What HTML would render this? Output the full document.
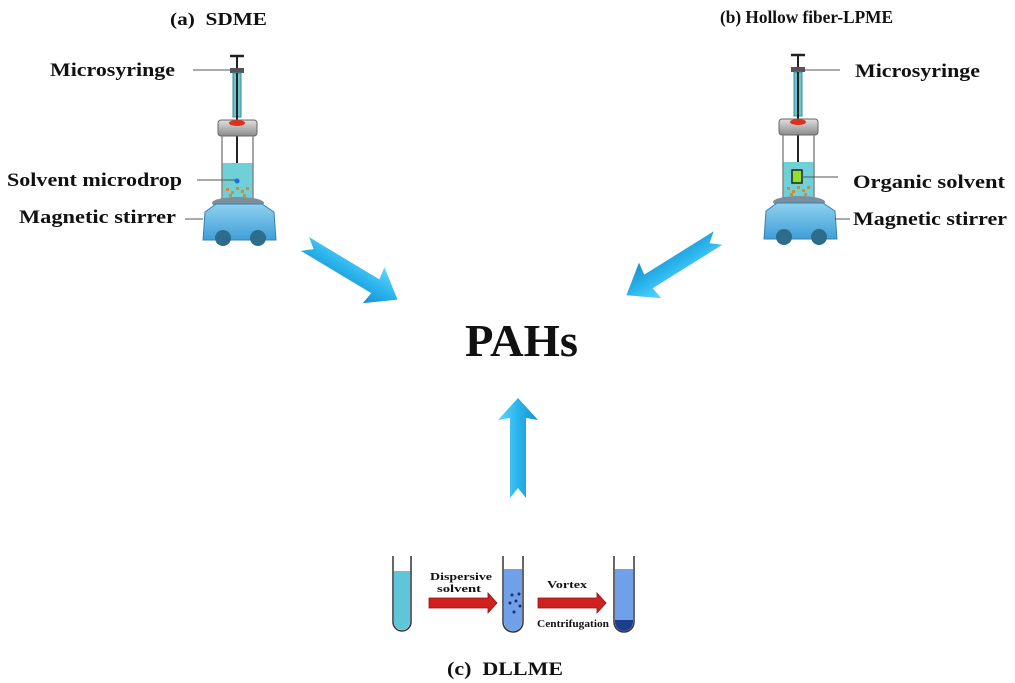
<!DOCTYPE html>
<html><head><meta charset="utf-8"><style>
html,body{margin:0;padding:0;background:#fff;}
svg{display:block;}
text{font-family:"Liberation Serif",serif;font-weight:bold;fill:#111;}
</style></head><body>
<svg width="1015" height="683" viewBox="0 0 1015 683" xmlns="http://www.w3.org/2000/svg">
<defs>
<linearGradient id="arr" x1="0" y1="0" x2="0" y2="1">
<stop offset="0" stop-color="#5fd6ff"/><stop offset="0.5" stop-color="#2ab4ec"/><stop offset="1" stop-color="#1a8fd0"/>
</linearGradient>
<linearGradient id="plate" x1="0" y1="0" x2="0" y2="1">
<stop offset="0" stop-color="#8fd0f0"/><stop offset="1" stop-color="#3f9fd6"/>
</linearGradient>
<linearGradient id="cap" x1="0" y1="0" x2="0" y2="1">
<stop offset="0" stop-color="#e0e0e0"/><stop offset="1" stop-color="#8a8a8a"/>
</linearGradient>
<g id="app">
<line x1="230" y1="56" x2="244" y2="56" stroke="#222" stroke-width="2.5"/>
<line x1="237" y1="56" x2="237" y2="70" stroke="#222" stroke-width="2"/>
<rect x="230" y="68" width="14" height="5" fill="#555"/>
<rect x="233" y="73" width="8" height="44" fill="#6cc4cf" stroke="#3a8a9a" stroke-width="1"/>
<line x1="237" y1="73" x2="237" y2="185" stroke="#222" stroke-width="2"/>
<rect x="218" y="120" width="39" height="16" rx="3" fill="url(#cap)" stroke="#666"/>
<ellipse cx="237" cy="123" rx="8" ry="3" fill="#e0301c"/>
<rect x="222" y="163" width="31" height="37" fill="#6fd0d8"/>
<line x1="222" y1="136" x2="222" y2="200" stroke="#888" stroke-width="1.5"/>
<line x1="253" y1="136" x2="253" y2="200" stroke="#888" stroke-width="1.5"/>
<g fill="#d08a30"><rect x="226" y="188" width="3" height="3"/><rect x="231" y="191" width="3" height="3"/><rect x="236" y="187" width="3" height="3"/><rect x="241" y="190" width="3" height="3"/><rect x="246" y="187" width="3" height="3"/><rect x="229" y="194" width="3" height="3"/><rect x="243" y="194" width="3" height="3"/></g>
<ellipse cx="238" cy="203" rx="26" ry="6" fill="#7a8f9a"/>
<path d="M205 212 L216 204 L262 204 L274 212 L276 240 L203 240 Z" fill="url(#plate)" stroke="#3a7fb0"/>
<ellipse cx="223" cy="238" rx="8" ry="8" fill="#2d6c8a"/>
<ellipse cx="258" cy="238" rx="8" ry="8" fill="#2d6c8a"/>
</g>
</defs>
<text x="170" y="25" font-size="18" textLength="97" lengthAdjust="spacingAndGlyphs">(a)&#160; SDME</text>
<text x="720" y="23" font-size="18" textLength="173" lengthAdjust="spacingAndGlyphs">(b) Hollow fiber-LPME</text>

<use href="#app"/>
<text x="50" y="76" font-size="19" textLength="125" lengthAdjust="spacingAndGlyphs">Microsyringe</text>
<line x1="193" y1="70" x2="230" y2="70" stroke="#555"/>
<text x="7" y="186" font-size="19" textLength="175" lengthAdjust="spacingAndGlyphs">Solvent microdrop</text>
<line x1="197" y1="180" x2="236" y2="180" stroke="#555"/>
<circle cx="237" cy="181" r="2.5" fill="#1a6fe0"/>
<text x="19" y="223" font-size="19" textLength="157" lengthAdjust="spacingAndGlyphs">Magnetic stirrer</text>
<line x1="185" y1="219" x2="203" y2="219" stroke="#555"/>

<g transform="translate(561,-1)"><use href="#app"/></g>
<rect x="792" y="170" width="10" height="13" fill="#8fe030" stroke="#222" stroke-width="1.5"/>
<line x1="805" y1="70" x2="840" y2="70" stroke="#555"/>
<text x="855" y="77" font-size="19" textLength="125" lengthAdjust="spacingAndGlyphs">Microsyringe</text>
<line x1="802" y1="177" x2="838" y2="177" stroke="#555"/>
<text x="853" y="188" font-size="19" textLength="152" lengthAdjust="spacingAndGlyphs">Organic solvent</text>
<line x1="835" y1="219" x2="850" y2="219" stroke="#555"/>
<text x="853" y="225" font-size="19" textLength="154" lengthAdjust="spacingAndGlyphs">Magnetic stirrer</text>

<text x="465" y="356" font-size="46" textLength="113" lengthAdjust="spacingAndGlyphs">PAHs</text>

<g transform="translate(305,244) rotate(31)">
<path d="M0 -8 L82 -8 L80 -21 L108 0 L80 21 L82 8 L0 8 L10 0 Z" fill="url(#arr)"/>
</g>
<g transform="translate(718,238) rotate(148)">
<path d="M0 -8 L82 -8 L80 -21 L108 0 L80 21 L82 8 L0 8 L10 0 Z" fill="url(#arr)"/>
</g>
<g transform="translate(518,498) rotate(-90)">
<path d="M0 -8 L80 -8 L78 -20 L100 0 L78 20 L80 8 L0 8 L10 0 Z" fill="url(#arr)"/>
</g>

<g stroke="#333" stroke-width="1.5" fill="none">
<path d="M393 556 L393 622 A9 9 0 0 0 411 622 L411 556"/>
<path d="M503 556 L503 622 A10 10 0 0 0 523 622 L523 556"/>
<path d="M614 556 L614 622 A10 10 0 0 0 634 622 L634 556"/>
</g>
<path d="M394 571 L410 571 L410 622 A8 8 0 0 1 394 622 Z" fill="#5fc6da"/>
<path d="M504 569 L522 569 L522 622 A9 9 0 0 1 504 622 Z" fill="#6fa0e8"/>
<path d="M615 569 L633 569 L633 622 A9 9 0 0 1 615 622 Z" fill="#6fa0e8"/>
<path d="M615 620 L633 620 L633 622 A9 9 0 0 1 615 622 Z" fill="#1a3f8f"/>
<g fill="#1a2f7a"><circle cx="512" cy="595" r="1.5"/><circle cx="510" cy="603" r="1.5"/><circle cx="519" cy="594" r="1.5"/><circle cx="516" cy="601" r="1.5"/><circle cx="520" cy="606" r="1.5"/><circle cx="514" cy="612" r="1.5"/></g>
<path d="M429 598 L488 598 L488 593 L497 603 L488 613 L488 608 L429 608 Z" fill="#d02020" stroke="#901010" stroke-width="0.8"/>
<path d="M538 598 L597 598 L597 593 L606 603 L597 613 L597 608 L538 608 Z" fill="#d02020" stroke="#901010" stroke-width="0.8"/>
<text x="430" y="580" font-size="11" textLength="62" lengthAdjust="spacingAndGlyphs">Dispersive</text>
<text x="437" y="592" font-size="11" textLength="44" lengthAdjust="spacingAndGlyphs">solvent</text>
<text x="547" y="588" font-size="11" textLength="40" lengthAdjust="spacingAndGlyphs">Vortex</text>
<text x="537" y="627" font-size="10" textLength="72" lengthAdjust="spacingAndGlyphs">Centrifugation</text>
<text x="447" y="675" font-size="19" textLength="116" lengthAdjust="spacingAndGlyphs">(c)&#160; DLLME</text>
</svg>
</body></html>
